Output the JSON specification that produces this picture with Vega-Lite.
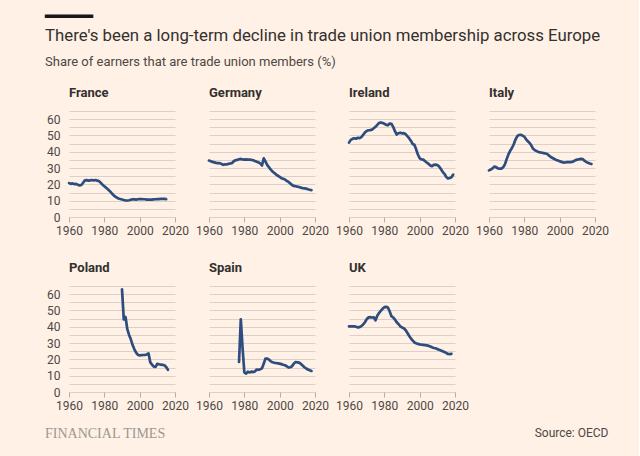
{
  "$schema": "https://vega.github.io/schema/vega-lite/v6.json",
  "background": "#fff1e5",
  "padding": {"left": 45, "top": 6, "right": 30, "bottom": 20},
  "config": {
    "font": "Roboto",
    "view": {"stroke": null}
  },
  "columns": 1,
  "spacing": 0,
  "title": {
    "text": "FINANCIAL TIMES",
    "orient": "bottom",
    "anchor": "start",
    "frame": "bounds",
    "font": "Liberation Serif",
    "fontSize": 14,
    "fontWeight": "normal",
    "color": "#9e9791",
    "offset": -12
  },
  "concat": [
    {
      "width": 48,
      "height": 1,
      "data": {"values": [{"k": 1}]},
      "mark": {"type": "point", "opacity": 0},
      "title": {
        "text": "━━━━",
        "subtitle": "There's been a long-term decline in trade union membership across Europe",
        "orient": "top",
        "anchor": "start",
        "frame": "group",
        "dx": -24,
        "font": "DejaVu Sans Mono",
        "fontSize": 20,
        "fontWeight": "normal",
        "color": "#1a1817",
        "subtitleFont": "Roboto",
        "subtitleFontSize": 16.8,
        "subtitleFontWeight": "normal",
        "subtitleColor": "#33302e",
        "subtitlePadding": 1,
        "offset": 4
      }
    },
    {
      "width": 48,
      "height": 1,
      "data": {"values": [{"k": 1}]},
      "mark": {"type": "point", "opacity": 0},
      "title": {
        "text": "Share of earners that are trade union members (%)",
        "orient": "top",
        "anchor": "start",
        "frame": "group",
        "dx": -24,
        "font": "Roboto",
        "fontSize": 13,
        "fontWeight": "normal",
        "color": "#4d4845",
        "offset": 12
      }
    },
    {
      "data": {"values": [
        {"country": "France", "year": 1960, "share": 20.8}, {"country": "France", "year": 1961, "share": 20.3}, {"country": "France", "year": 1962, "share": 20.6}, {"country": "France", "year": 1963, "share": 20.2}, {"country": "France", "year": 1964, "share": 20.3}, {"country": "France", "year": 1965, "share": 19.8}, {"country": "France", "year": 1966, "share": 19.4}, {"country": "France", "year": 1967, "share": 19.6}, {"country": "France", "year": 1968, "share": 21.0}, {"country": "France", "year": 1969, "share": 22.5}, {"country": "France", "year": 1970, "share": 22.6}, {"country": "France", "year": 1971, "share": 22.3}, {"country": "France", "year": 1972, "share": 22.5}, {"country": "France", "year": 1973, "share": 22.7}, {"country": "France", "year": 1974, "share": 22.4}, {"country": "France", "year": 1975, "share": 22.7}, {"country": "France", "year": 1976, "share": 22.3}, {"country": "France", "year": 1977, "share": 22.0}, {"country": "France", "year": 1978, "share": 20.9}, {"country": "France", "year": 1979, "share": 19.8}, {"country": "France", "year": 1980, "share": 18.9}, {"country": "France", "year": 1981, "share": 17.9}, {"country": "France", "year": 1982, "share": 17.0}, {"country": "France", "year": 1983, "share": 16.0}, {"country": "France", "year": 1984, "share": 14.8}, {"country": "France", "year": 1985, "share": 13.6}, {"country": "France", "year": 1986, "share": 12.6}, {"country": "France", "year": 1987, "share": 11.9}, {"country": "France", "year": 1988, "share": 11.4}, {"country": "France", "year": 1989, "share": 11.0}, {"country": "France", "year": 1990, "share": 10.7}, {"country": "France", "year": 1991, "share": 10.4}, {"country": "France", "year": 1992, "share": 10.2}, {"country": "France", "year": 1993, "share": 10.1}, {"country": "France", "year": 1994, "share": 10.3}, {"country": "France", "year": 1995, "share": 10.6}, {"country": "France", "year": 1996, "share": 10.9}, {"country": "France", "year": 1997, "share": 10.8}, {"country": "France", "year": 1998, "share": 10.7}, {"country": "France", "year": 1999, "share": 10.9}, {"country": "France", "year": 2000, "share": 11.0}, {"country": "France", "year": 2001, "share": 11.0}, {"country": "France", "year": 2002, "share": 10.9}, {"country": "France", "year": 2003, "share": 10.9}, {"country": "France", "year": 2004, "share": 10.7}, {"country": "France", "year": 2005, "share": 10.7}, {"country": "France", "year": 2006, "share": 10.6}, {"country": "France", "year": 2007, "share": 10.7}, {"country": "France", "year": 2008, "share": 10.8}, {"country": "France", "year": 2009, "share": 10.9}, {"country": "France", "year": 2010, "share": 11.0}, {"country": "France", "year": 2011, "share": 11.0}, {"country": "France", "year": 2012, "share": 11.1}, {"country": "France", "year": 2013, "share": 11.1}, {"country": "France", "year": 2014, "share": 11.1}, {"country": "France", "year": 2015, "share": 11.0},
        {"country": "Germany", "year": 1960, "share": 34.6}, {"country": "Germany", "year": 1961, "share": 34.2}, {"country": "Germany", "year": 1962, "share": 33.8}, {"country": "Germany", "year": 1963, "share": 33.5}, {"country": "Germany", "year": 1964, "share": 33.2}, {"country": "Germany", "year": 1965, "share": 33.0}, {"country": "Germany", "year": 1966, "share": 33.0}, {"country": "Germany", "year": 1967, "share": 32.6}, {"country": "Germany", "year": 1968, "share": 32.0}, {"country": "Germany", "year": 1969, "share": 32.3}, {"country": "Germany", "year": 1970, "share": 32.2}, {"country": "Germany", "year": 1971, "share": 32.6}, {"country": "Germany", "year": 1972, "share": 32.8}, {"country": "Germany", "year": 1973, "share": 33.0}, {"country": "Germany", "year": 1974, "share": 34.2}, {"country": "Germany", "year": 1975, "share": 34.8}, {"country": "Germany", "year": 1976, "share": 35.0}, {"country": "Germany", "year": 1977, "share": 35.4}, {"country": "Germany", "year": 1978, "share": 35.6}, {"country": "Germany", "year": 1979, "share": 35.3}, {"country": "Germany", "year": 1980, "share": 35.2}, {"country": "Germany", "year": 1981, "share": 35.3}, {"country": "Germany", "year": 1982, "share": 35.2}, {"country": "Germany", "year": 1983, "share": 35.2}, {"country": "Germany", "year": 1984, "share": 35.0}, {"country": "Germany", "year": 1985, "share": 34.8}, {"country": "Germany", "year": 1986, "share": 34.3}, {"country": "Germany", "year": 1987, "share": 33.9}, {"country": "Germany", "year": 1988, "share": 33.5}, {"country": "Germany", "year": 1989, "share": 32.9}, {"country": "Germany", "year": 1990, "share": 31.6}, {"country": "Germany", "year": 1991, "share": 36.0}, {"country": "Germany", "year": 1992, "share": 33.9}, {"country": "Germany", "year": 1993, "share": 31.8}, {"country": "Germany", "year": 1994, "share": 30.4}, {"country": "Germany", "year": 1995, "share": 29.0}, {"country": "Germany", "year": 1996, "share": 27.8}, {"country": "Germany", "year": 1997, "share": 27.0}, {"country": "Germany", "year": 1998, "share": 26.0}, {"country": "Germany", "year": 1999, "share": 25.3}, {"country": "Germany", "year": 2000, "share": 24.6}, {"country": "Germany", "year": 2001, "share": 23.8}, {"country": "Germany", "year": 2002, "share": 23.4}, {"country": "Germany", "year": 2003, "share": 23.0}, {"country": "Germany", "year": 2004, "share": 22.2}, {"country": "Germany", "year": 2005, "share": 21.5}, {"country": "Germany", "year": 2006, "share": 20.6}, {"country": "Germany", "year": 2007, "share": 19.6}, {"country": "Germany", "year": 2008, "share": 19.0}, {"country": "Germany", "year": 2009, "share": 18.9}, {"country": "Germany", "year": 2010, "share": 18.6}, {"country": "Germany", "year": 2011, "share": 18.4}, {"country": "Germany", "year": 2012, "share": 18.0}, {"country": "Germany", "year": 2013, "share": 17.7}, {"country": "Germany", "year": 2014, "share": 17.6}, {"country": "Germany", "year": 2015, "share": 17.4}, {"country": "Germany", "year": 2016, "share": 17.0}, {"country": "Germany", "year": 2017, "share": 16.7}, {"country": "Germany", "year": 2018, "share": 16.5},
        {"country": "Ireland", "year": 1960, "share": 45.6}, {"country": "Ireland", "year": 1961, "share": 47.3}, {"country": "Ireland", "year": 1962, "share": 47.9}, {"country": "Ireland", "year": 1963, "share": 48.3}, {"country": "Ireland", "year": 1964, "share": 48.0}, {"country": "Ireland", "year": 1965, "share": 48.6}, {"country": "Ireland", "year": 1966, "share": 48.4}, {"country": "Ireland", "year": 1967, "share": 49.0}, {"country": "Ireland", "year": 1968, "share": 50.3}, {"country": "Ireland", "year": 1969, "share": 51.8}, {"country": "Ireland", "year": 1970, "share": 52.8}, {"country": "Ireland", "year": 1971, "share": 53.2}, {"country": "Ireland", "year": 1972, "share": 53.3}, {"country": "Ireland", "year": 1973, "share": 53.6}, {"country": "Ireland", "year": 1974, "share": 54.4}, {"country": "Ireland", "year": 1975, "share": 55.3}, {"country": "Ireland", "year": 1976, "share": 56.5}, {"country": "Ireland", "year": 1977, "share": 57.6}, {"country": "Ireland", "year": 1978, "share": 58.0}, {"country": "Ireland", "year": 1979, "share": 57.6}, {"country": "Ireland", "year": 1980, "share": 57.2}, {"country": "Ireland", "year": 1981, "share": 56.6}, {"country": "Ireland", "year": 1982, "share": 56.2}, {"country": "Ireland", "year": 1983, "share": 57.3}, {"country": "Ireland", "year": 1984, "share": 57.2}, {"country": "Ireland", "year": 1985, "share": 55.3}, {"country": "Ireland", "year": 1986, "share": 52.6}, {"country": "Ireland", "year": 1987, "share": 50.6}, {"country": "Ireland", "year": 1988, "share": 51.4}, {"country": "Ireland", "year": 1989, "share": 51.7}, {"country": "Ireland", "year": 1990, "share": 51.3}, {"country": "Ireland", "year": 1991, "share": 51.4}, {"country": "Ireland", "year": 1992, "share": 50.9}, {"country": "Ireland", "year": 1993, "share": 49.6}, {"country": "Ireland", "year": 1994, "share": 48.3}, {"country": "Ireland", "year": 1995, "share": 46.8}, {"country": "Ireland", "year": 1996, "share": 44.8}, {"country": "Ireland", "year": 1997, "share": 44.3}, {"country": "Ireland", "year": 1998, "share": 41.5}, {"country": "Ireland", "year": 1999, "share": 38.3}, {"country": "Ireland", "year": 2000, "share": 36.0}, {"country": "Ireland", "year": 2001, "share": 35.3}, {"country": "Ireland", "year": 2002, "share": 35.2}, {"country": "Ireland", "year": 2003, "share": 34.3}, {"country": "Ireland", "year": 2004, "share": 33.4}, {"country": "Ireland", "year": 2005, "share": 32.6}, {"country": "Ireland", "year": 2006, "share": 31.6}, {"country": "Ireland", "year": 2007, "share": 31.2}, {"country": "Ireland", "year": 2008, "share": 32.0}, {"country": "Ireland", "year": 2009, "share": 32.1}, {"country": "Ireland", "year": 2010, "share": 31.8}, {"country": "Ireland", "year": 2011, "share": 31.0}, {"country": "Ireland", "year": 2012, "share": 29.4}, {"country": "Ireland", "year": 2013, "share": 27.7}, {"country": "Ireland", "year": 2014, "share": 26.5}, {"country": "Ireland", "year": 2015, "share": 24.6}, {"country": "Ireland", "year": 2016, "share": 23.6}, {"country": "Ireland", "year": 2017, "share": 23.9}, {"country": "Ireland", "year": 2018, "share": 24.4}, {"country": "Ireland", "year": 2019, "share": 26.0},
        {"country": "Italy", "year": 1960, "share": 28.6}, {"country": "Italy", "year": 1961, "share": 29.1}, {"country": "Italy", "year": 1962, "share": 29.8}, {"country": "Italy", "year": 1963, "share": 30.9}, {"country": "Italy", "year": 1964, "share": 30.6}, {"country": "Italy", "year": 1965, "share": 29.8}, {"country": "Italy", "year": 1966, "share": 29.7}, {"country": "Italy", "year": 1967, "share": 29.7}, {"country": "Italy", "year": 1968, "share": 30.4}, {"country": "Italy", "year": 1969, "share": 32.3}, {"country": "Italy", "year": 1970, "share": 35.5}, {"country": "Italy", "year": 1971, "share": 38.4}, {"country": "Italy", "year": 1972, "share": 40.6}, {"country": "Italy", "year": 1973, "share": 42.3}, {"country": "Italy", "year": 1974, "share": 44.6}, {"country": "Italy", "year": 1975, "share": 47.5}, {"country": "Italy", "year": 1976, "share": 49.6}, {"country": "Italy", "year": 1977, "share": 50.3}, {"country": "Italy", "year": 1978, "share": 50.4}, {"country": "Italy", "year": 1979, "share": 49.9}, {"country": "Italy", "year": 1980, "share": 49.3}, {"country": "Italy", "year": 1981, "share": 47.6}, {"country": "Italy", "year": 1982, "share": 46.4}, {"country": "Italy", "year": 1983, "share": 45.4}, {"country": "Italy", "year": 1984, "share": 43.8}, {"country": "Italy", "year": 1985, "share": 41.8}, {"country": "Italy", "year": 1986, "share": 40.9}, {"country": "Italy", "year": 1987, "share": 40.4}, {"country": "Italy", "year": 1988, "share": 39.9}, {"country": "Italy", "year": 1989, "share": 39.6}, {"country": "Italy", "year": 1990, "share": 39.4}, {"country": "Italy", "year": 1991, "share": 39.2}, {"country": "Italy", "year": 1992, "share": 38.9}, {"country": "Italy", "year": 1993, "share": 38.6}, {"country": "Italy", "year": 1994, "share": 37.6}, {"country": "Italy", "year": 1995, "share": 36.8}, {"country": "Italy", "year": 1996, "share": 36.2}, {"country": "Italy", "year": 1997, "share": 35.6}, {"country": "Italy", "year": 1998, "share": 35.0}, {"country": "Italy", "year": 1999, "share": 34.6}, {"country": "Italy", "year": 2000, "share": 34.2}, {"country": "Italy", "year": 2001, "share": 33.8}, {"country": "Italy", "year": 2002, "share": 33.5}, {"country": "Italy", "year": 2003, "share": 33.4}, {"country": "Italy", "year": 2004, "share": 33.6}, {"country": "Italy", "year": 2005, "share": 33.7}, {"country": "Italy", "year": 2006, "share": 33.7}, {"country": "Italy", "year": 2007, "share": 33.8}, {"country": "Italy", "year": 2008, "share": 34.2}, {"country": "Italy", "year": 2009, "share": 34.9}, {"country": "Italy", "year": 2010, "share": 35.2}, {"country": "Italy", "year": 2011, "share": 35.4}, {"country": "Italy", "year": 2012, "share": 35.6}, {"country": "Italy", "year": 2013, "share": 35.5}, {"country": "Italy", "year": 2014, "share": 34.5}, {"country": "Italy", "year": 2015, "share": 33.8}, {"country": "Italy", "year": 2016, "share": 33.2}, {"country": "Italy", "year": 2017, "share": 32.8}, {"country": "Italy", "year": 2018, "share": 32.5},
        {"country": "Poland", "year": 1990, "share": 63.0}, {"country": "Poland", "year": 1991, "share": 44.5}, {"country": "Poland", "year": 1992, "share": 46.0}, {"country": "Poland", "year": 1993, "share": 38.5}, {"country": "Poland", "year": 1994, "share": 35.0}, {"country": "Poland", "year": 1995, "share": 32.3}, {"country": "Poland", "year": 1996, "share": 28.8}, {"country": "Poland", "year": 1997, "share": 26.2}, {"country": "Poland", "year": 1998, "share": 24.1}, {"country": "Poland", "year": 1999, "share": 22.8}, {"country": "Poland", "year": 2000, "share": 22.4}, {"country": "Poland", "year": 2001, "share": 22.6}, {"country": "Poland", "year": 2002, "share": 22.7}, {"country": "Poland", "year": 2003, "share": 22.8}, {"country": "Poland", "year": 2004, "share": 23.0}, {"country": "Poland", "year": 2005, "share": 23.7}, {"country": "Poland", "year": 2006, "share": 18.2}, {"country": "Poland", "year": 2007, "share": 16.8}, {"country": "Poland", "year": 2008, "share": 15.5}, {"country": "Poland", "year": 2009, "share": 15.4}, {"country": "Poland", "year": 2010, "share": 17.3}, {"country": "Poland", "year": 2011, "share": 17.0}, {"country": "Poland", "year": 2012, "share": 16.8}, {"country": "Poland", "year": 2013, "share": 16.6}, {"country": "Poland", "year": 2014, "share": 16.4}, {"country": "Poland", "year": 2015, "share": 15.3}, {"country": "Poland", "year": 2016, "share": 13.6},
        {"country": "Spain", "year": 1977, "share": 18.5}, {"country": "Spain", "year": 1978, "share": 44.5}, {"country": "Spain", "year": 1979, "share": 27.0}, {"country": "Spain", "year": 1980, "share": 12.0}, {"country": "Spain", "year": 1981, "share": 11.3}, {"country": "Spain", "year": 1982, "share": 12.5}, {"country": "Spain", "year": 1983, "share": 12.0}, {"country": "Spain", "year": 1984, "share": 12.5}, {"country": "Spain", "year": 1985, "share": 12.2}, {"country": "Spain", "year": 1986, "share": 12.6}, {"country": "Spain", "year": 1987, "share": 13.8}, {"country": "Spain", "year": 1988, "share": 13.6}, {"country": "Spain", "year": 1989, "share": 14.0}, {"country": "Spain", "year": 1990, "share": 14.5}, {"country": "Spain", "year": 1991, "share": 17.5}, {"country": "Spain", "year": 1992, "share": 20.5}, {"country": "Spain", "year": 1993, "share": 20.5}, {"country": "Spain", "year": 1994, "share": 19.8}, {"country": "Spain", "year": 1995, "share": 18.8}, {"country": "Spain", "year": 1996, "share": 18.2}, {"country": "Spain", "year": 1997, "share": 17.9}, {"country": "Spain", "year": 1998, "share": 17.8}, {"country": "Spain", "year": 1999, "share": 17.6}, {"country": "Spain", "year": 2000, "share": 17.4}, {"country": "Spain", "year": 2001, "share": 17.1}, {"country": "Spain", "year": 2002, "share": 16.7}, {"country": "Spain", "year": 2003, "share": 16.4}, {"country": "Spain", "year": 2004, "share": 15.8}, {"country": "Spain", "year": 2005, "share": 15.0}, {"country": "Spain", "year": 2006, "share": 15.2}, {"country": "Spain", "year": 2007, "share": 15.8}, {"country": "Spain", "year": 2008, "share": 17.4}, {"country": "Spain", "year": 2009, "share": 18.4}, {"country": "Spain", "year": 2010, "share": 18.2}, {"country": "Spain", "year": 2011, "share": 18.0}, {"country": "Spain", "year": 2012, "share": 17.2}, {"country": "Spain", "year": 2013, "share": 16.2}, {"country": "Spain", "year": 2014, "share": 15.2}, {"country": "Spain", "year": 2015, "share": 14.4}, {"country": "Spain", "year": 2016, "share": 13.8}, {"country": "Spain", "year": 2017, "share": 13.3}, {"country": "Spain", "year": 2018, "share": 12.9},
        {"country": "UK", "year": 1960, "share": 40.2}, {"country": "UK", "year": 1961, "share": 40.2}, {"country": "UK", "year": 1962, "share": 40.3}, {"country": "UK", "year": 1963, "share": 40.2}, {"country": "UK", "year": 1964, "share": 40.0}, {"country": "UK", "year": 1965, "share": 39.6}, {"country": "UK", "year": 1966, "share": 39.8}, {"country": "UK", "year": 1967, "share": 40.4}, {"country": "UK", "year": 1968, "share": 41.4}, {"country": "UK", "year": 1969, "share": 42.8}, {"country": "UK", "year": 1970, "share": 44.6}, {"country": "UK", "year": 1971, "share": 45.8}, {"country": "UK", "year": 1972, "share": 45.9}, {"country": "UK", "year": 1973, "share": 45.7}, {"country": "UK", "year": 1974, "share": 45.8}, {"country": "UK", "year": 1975, "share": 44.0}, {"country": "UK", "year": 1976, "share": 46.8}, {"country": "UK", "year": 1977, "share": 48.4}, {"country": "UK", "year": 1978, "share": 49.8}, {"country": "UK", "year": 1979, "share": 51.0}, {"country": "UK", "year": 1980, "share": 52.0}, {"country": "UK", "year": 1981, "share": 52.2}, {"country": "UK", "year": 1982, "share": 51.8}, {"country": "UK", "year": 1983, "share": 49.5}, {"country": "UK", "year": 1984, "share": 46.5}, {"country": "UK", "year": 1985, "share": 45.7}, {"country": "UK", "year": 1986, "share": 44.4}, {"country": "UK", "year": 1987, "share": 42.8}, {"country": "UK", "year": 1988, "share": 41.7}, {"country": "UK", "year": 1989, "share": 40.3}, {"country": "UK", "year": 1990, "share": 39.6}, {"country": "UK", "year": 1991, "share": 39.1}, {"country": "UK", "year": 1992, "share": 38.0}, {"country": "UK", "year": 1993, "share": 36.3}, {"country": "UK", "year": 1994, "share": 34.5}, {"country": "UK", "year": 1995, "share": 32.9}, {"country": "UK", "year": 1996, "share": 31.6}, {"country": "UK", "year": 1997, "share": 30.4}, {"country": "UK", "year": 1998, "share": 29.9}, {"country": "UK", "year": 1999, "share": 29.5}, {"country": "UK", "year": 2000, "share": 29.2}, {"country": "UK", "year": 2001, "share": 29.0}, {"country": "UK", "year": 2002, "share": 28.9}, {"country": "UK", "year": 2003, "share": 28.8}, {"country": "UK", "year": 2004, "share": 28.6}, {"country": "UK", "year": 2005, "share": 28.3}, {"country": "UK", "year": 2006, "share": 27.9}, {"country": "UK", "year": 2007, "share": 27.4}, {"country": "UK", "year": 2008, "share": 27.0}, {"country": "UK", "year": 2009, "share": 26.8}, {"country": "UK", "year": 2010, "share": 26.3}, {"country": "UK", "year": 2011, "share": 25.9}, {"country": "UK", "year": 2012, "share": 25.5}, {"country": "UK", "year": 2013, "share": 25.0}, {"country": "UK", "year": 2014, "share": 24.5}, {"country": "UK", "year": 2015, "share": 24.0}, {"country": "UK", "year": 2016, "share": 23.3}, {"country": "UK", "year": 2017, "share": 23.2}, {"country": "UK", "year": 2018, "share": 23.4}
      ]},
      "title": {
        "text": "Source: OECD",
        "orient": "bottom",
        "anchor": "end",
        "frame": "bounds",
        "font": "Roboto",
        "fontSize": 12,
        "fontWeight": "normal",
        "color": "#4d4845",
        "offset": 17
      },
      "facet": {
        "field": "country",
        "type": "nominal",
        "header": {
          "title": null,
          "labelAnchor": "start",
          "labelAlign": "left",
          "labelFont": "Roboto",
          "labelFontSize": 13,
          "labelFontWeight": "bold",
          "labelColor": "#33302e",
          "labelPadding": 11
        }
      },
      "columns": 4,
      "spacing": {"column": 34, "row": 69},
      "bounds": "flush",
      "resolve": {"axis": {"x": "independent"}},
      "spec": {
        "width": 106,
        "height": 106,
        "mark": {"type": "line", "color": "#2e4d7f", "strokeWidth": 2.7, "strokeCap": "round", "strokeJoin": "round"},
        "encoding": {
          "x": {
            "field": "year",
            "type": "quantitative",
            "scale": {"domain": [1960, 2020], "nice": false, "zero": false},
            "axis": {
              "values": [1960, 1980, 2000, 2020],
              "format": "d",
              "title": null,
              "grid": false,
              "domain": false,
              "tickColor": "#b5ada6",
              "tickSize": 5,
              "labelPadding": 3,
              "labelFont": "Roboto",
              "labelFontSize": 12,
              "labelColor": "#4d4845",
              "labelFlush": false,
              "labelOverlap": false
            }
          },
          "y": {
            "field": "share",
            "type": "quantitative",
            "scale": {"domain": [0, 65], "nice": false},
            "axis": {
              "values": [0, 5, 10, 15, 20, 25, 30, 35, 40, 45, 50, 55, 60, 65],
              "labelExpr": "datum.value % 10 === 0 && datum.value <= 60 ? datum.label : ''",
              "title": null,
              "domain": false,
              "ticks": false,
              "grid": true,
              "gridColor": "#dbd1c8",
              "gridWidth": 1,
              "labelPadding": 9,
              "labelFont": "Roboto",
              "labelFontSize": 12,
              "labelColor": "#4d4845"
            }
          }
        }
      }
    }
  ]
}
